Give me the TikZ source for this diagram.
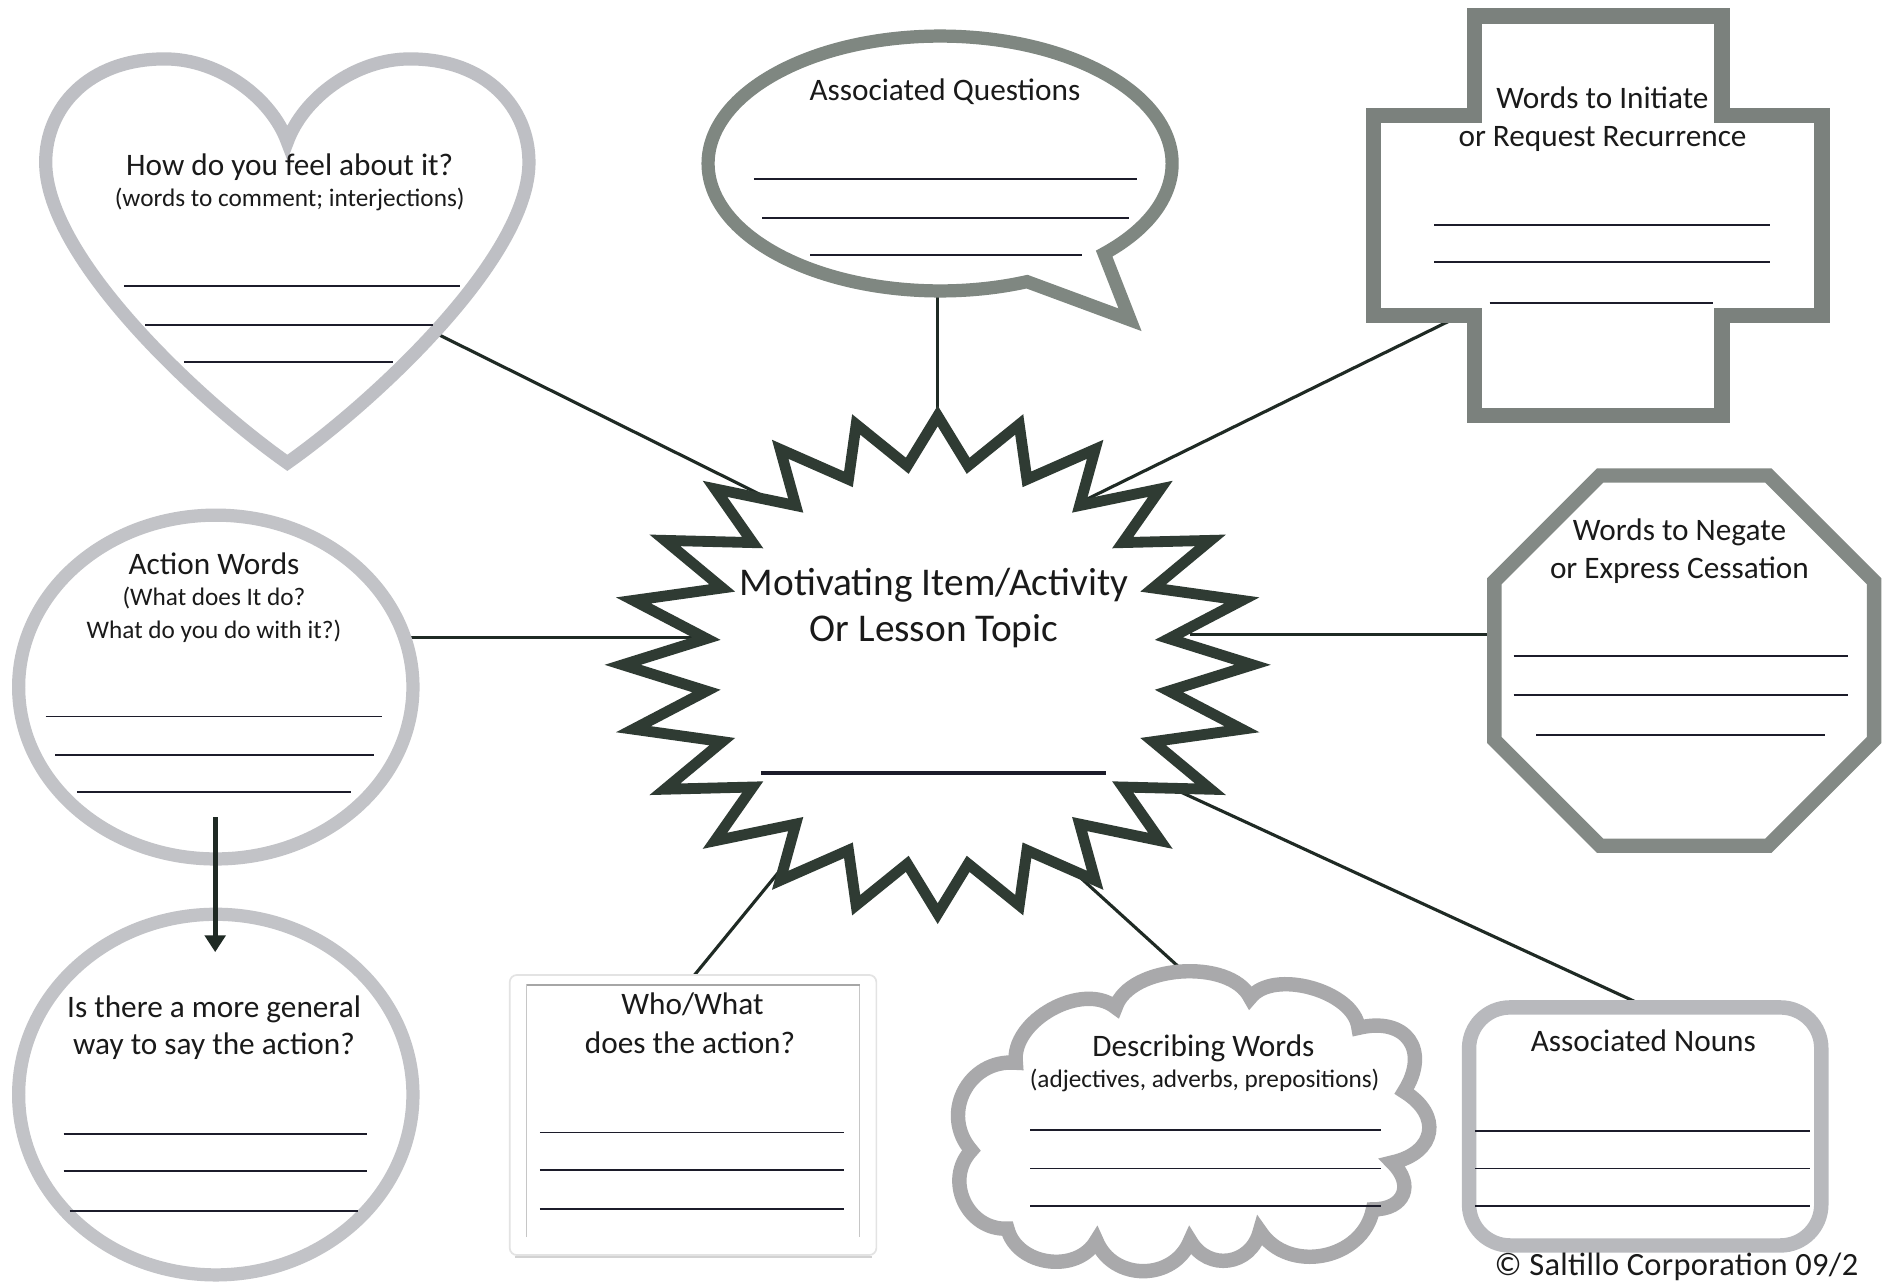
\documentclass[tikz,border=0pt]{standalone}
\usepackage{fontspec}
\setmainfont{Carlito}
\newfontfamily\copyfont[LetterSpace=1]{Carlito}
\usetikzlibrary{arrows.meta}
\definecolor{heartc}{HTML}{BEBFC4}
\definecolor{ellc}{HTML}{C2C3C7}
\definecolor{bubc}{HTML}{7F8781}
\definecolor{crossc}{HTML}{7B817D}
\definecolor{octc}{HTML}{838985}
\definecolor{starc}{HTML}{2F3B33}
\definecolor{cloudc}{HTML}{A9A9AB}
\definecolor{nounc}{HTML}{B8B9BD}
\definecolor{inkc}{HTML}{1C1C2A}
\definecolor{connc}{HTML}{1F2A24}
\definecolor{txtc}{HTML}{1A1A1A}
\newcommand\mwTitle{\fontsize{26}{31}\selectfont}
\newcommand\mwSub{\fontsize{21}{26}\selectfont}
\newcommand\mwCenter{\fontsize{32.7}{39}\selectfont}
\tikzset{
  band/.style={fill=white, line join=miter},
  wline/.style={draw=inkc, line width=1.6pt},
  conn/.style={draw=connc, line width=2.6pt},
  ttl/.style={font=\mwTitle, text=txtc, inner sep=0pt, anchor=base},
  subl/.style={font=\mwSub, text=txtc, inner sep=0pt, anchor=base},
  ctr/.style={font=\mwCenter, text=txtc, inner sep=0pt, anchor=base},
  bump/.style={bend left=68, looseness=#1},
}
\begin{document}
\begin{tikzpicture}[x=1pt,y=-1pt]
\useasboundingbox (0,0) rectangle (1568,1069);
\clip (0,0) rectangle (1568,1069);
\fill[white] (0,0) rectangle (1568,1069);

% ---------- connector end points ----------
\coordinate (cHeart) at (340,266);   \coordinate (sHeart) at (680,435);
\coordinate (cBub)   at (780,200);   \coordinate (sBub)   at (780,380);
\coordinate (cCross) at (1230,255);  \coordinate (sCross) at (870,432);
\coordinate (cAct)   at (320,530);   \coordinate (sAct)   at (600,530);
\coordinate (cOct)   at (1265,528);  \coordinate (sOct)   at (990,528);
\coordinate (cWho)   at (572,818);   \coordinate (sWho)   at (680,686);
\coordinate (cCloud) at (1000,822);  \coordinate (sCloud) at (870,704);
\coordinate (cNoun)  at (1390,847);  \coordinate (sNoun)  at (950,644);

\draw[conn] (cHeart) -- (sHeart);
\draw[conn] (cBub) -- (sBub);
\draw[conn] (cCross) -- (sCross);
\draw[conn] (cAct) -- (sAct);
\draw[conn] (cOct) -- (sOct);
\draw[conn] (cWho) -- (sWho);
\draw[conn] (cCloud) -- (sCloud);
\draw[conn] (cNoun) -- (sNoun);

% ---------- heart ----------
\draw[band, draw=heartc, line width=11pt]
  (239,118) .. controls (252,82) and (295,49) .. (341,49)
  .. controls (405,49) and (440,90) .. (440,135)
  .. controls (440,215) and (310,335) .. (239,385)
  .. controls (168,335) and (38,215) .. (38,135)
  .. controls (38,90) and (73,49) .. (137,49)
  .. controls (183,49) and (226,82) .. (239,118) -- cycle;

% ---------- speech bubble ----------
\draw[band, draw=bubc, line width=11pt]
  (782,136) ++(45:193 and 106)
  arc[start angle=45, end angle=-292, x radius=193, y radius=106]
  -- (940,266) -- cycle;

% ---------- cross ----------
\draw[band, draw=crossc, line width=13pt]
  (1226.5,13.5) -- (1432.5,13.5) -- (1432.5,96) -- (1515.5,96)
  -- (1515.5,262.5) -- (1432.5,262.5) -- (1432.5,345.5) -- (1226.5,345.5)
  -- (1226.5,262.5) -- (1142.5,262.5) -- (1142.5,96) -- (1226.5,96) -- cycle;

% ---------- octagon ----------
\draw[band, draw=octc, line width=12pt]
  (1331,395.5) -- (1471,395.5) -- (1559,483.5) -- (1559,615.5)
  -- (1471,703.5) -- (1331,703.5) -- (1243,615.5) -- (1243,483.5) -- cycle;

% ---------- star ----------
\draw[band, draw=starc, line width=9pt]
  plot[samples at={0,...,47}, variable=\k]
  ({780+(262-68*mod(\k,2))*cos(7.5*\k-90)}, {553+(207-40*mod(\k,2))*sin(7.5*\k-90)}) -- cycle;

% ---------- action ellipses and arrow ----------
\draw[band, draw=ellc, line width=11pt] (179.5,571.5) ellipse[x radius=164, y radius=143];
\draw[band, draw=ellc, line width=11pt] (179.5,910.5) ellipse[x radius=164, y radius=150];
\coordinate (arrA) at (179,680);
\coordinate (arrB) at (179,792);
\draw[draw=connc, line width=4pt, -{Triangle[width=17pt,length=14pt]}] (arrA) -- (arrB);

% ---------- who/what rectangle ----------
\draw[draw=gray!22, line width=1.4pt, fill=white, rounded corners=6pt] (424,811) rectangle (729,1044);
\draw[draw=gray!35, line width=1.2pt] (428,1045.5) -- (725,1045.5);
\draw[draw=gray!45, line width=0.8pt] (438,1029) -- (438,819) -- (715,819) -- (715,1029);
\draw[draw=gray!70, line width=1.6pt] (438,819) -- (715,819);

% ---------- cloud ----------
\draw[band, draw=cloudc, line width=12pt]
  (845,884) to[bump=0.95] (928,838)
  to[bump=0.85] (1040,830)
  to[bump=0.85] (1130,855)
  to[bump=1.6] (1168,908)
  to[bump=1.6] (1158,967)
  to[bump=1.6] (1142,1006)
  to[bump=1.15] (1048,1024)
  to[bump=1.3] (990,1032)
  to[bump=1.2] (912,1032)
  to[bump=1.1] (838,1022)
  to[bump=1.2] (808,957)
  to[bump=1.25] (845,884) -- cycle;

% ---------- associated nouns ----------
\draw[band, draw=nounc, line width=12pt, rounded corners=34pt] (1222,838) rectangle (1515,1036);

% ---------- writing lines ----------
\draw[wline] (103,238) -- (383,238);
\draw[wline] (121,270) -- (360,270);
\draw[wline] (153,301) -- (327,301);
\draw[wline] (627,149) -- (946,149);
\draw[wline] (634,181) -- (939,181);
\draw[wline] (674,212) -- (900,212);
\draw[wline] (1193,187) -- (1472,187);
\draw[wline] (1193,218) -- (1472,218);
\draw[wline] (1239,252) -- (1425,252);
\draw[draw=inkc, line width=3.2pt] (633,643) -- (920,643);
\draw[wline] (1259,546) -- (1537,546);
\draw[wline] (1259,578) -- (1537,578);
\draw[wline] (1278,611) -- (1518,611);
\draw[wline] (38,596) -- (318,596);
\draw[wline] (46,628) -- (311,628);
\draw[wline] (64,659) -- (292,659);
\draw[wline] (53,943) -- (305,943);
\draw[wline] (53,974) -- (305,974);
\draw[wline] (58,1007) -- (298,1007);
\draw[wline] (449,942) -- (702,942);
\draw[wline] (449,973) -- (702,973);
\draw[wline] (449,1006) -- (702,1006);
\draw[wline] (857,940) -- (1149,940);
\draw[wline] (857,972) -- (1149,972);
\draw[wline] (857,1003) -- (1149,1003);
\draw[wline] (1227,941) -- (1506,941);
\draw[wline] (1227,972) -- (1506,972);
\draw[wline] (1227,1003) -- (1506,1003);

% ---------- texts ----------
\node[ttl]  (heartT) at (241,146) {How do you feel about it?};
\node[subl] (heartS) at (241,172) {(words to comment; interjections)};
\node[ttl]  (bubT)   at (786,84)  {Associated Questions};
\node[ttl]  (crossA) at (1333,90) {Words to Initiate};
\node[ttl]  (crossB) at (1333,122) {or Request Recurrence};
\node[ctr]  (starA)  at (777,495) {Motivating Item/Activity};
\node[ctr]  (starB)  at (777,534) {Or Lesson Topic};
\node[ttl]  (octA)   at (1397,450) {Words to Negate};
\node[ttl]  (octB)   at (1397,481) {or Express Cessation};
\node[ttl]  (actT)   at (178,478) {Action Words};
\node[subl] (actA)   at (178,504) {(What does It do?};
\node[subl] (actB)   at (178,531) {What do you do with it?)};
\node[ttl]  (genA)   at (178,846) {Is there a more general};
\node[ttl]  (genB)   at (178,877) {way to say the action?};
\node[ttl]  (whoA)   at (576,844) {Who/What};
\node[ttl]  (whoB)   at (574,876) {does the action?};
\node[ttl]  (cloudT) at (1001,879) {Describing Words};
\node[subl] (cloudS) at (1002,905) {(adjectives, adverbs, prepositions)};
\node[ttl]  (nounT)  at (1367,875) {Associated Nouns};
\node[anchor=base west, inner sep=0pt, text=txtc, font=\copyfont\fontsize{27}{30}\selectfont] (copyT) at (1243,1061) {© Saltillo Corporation 09/2};
\end{tikzpicture}
\end{document}
